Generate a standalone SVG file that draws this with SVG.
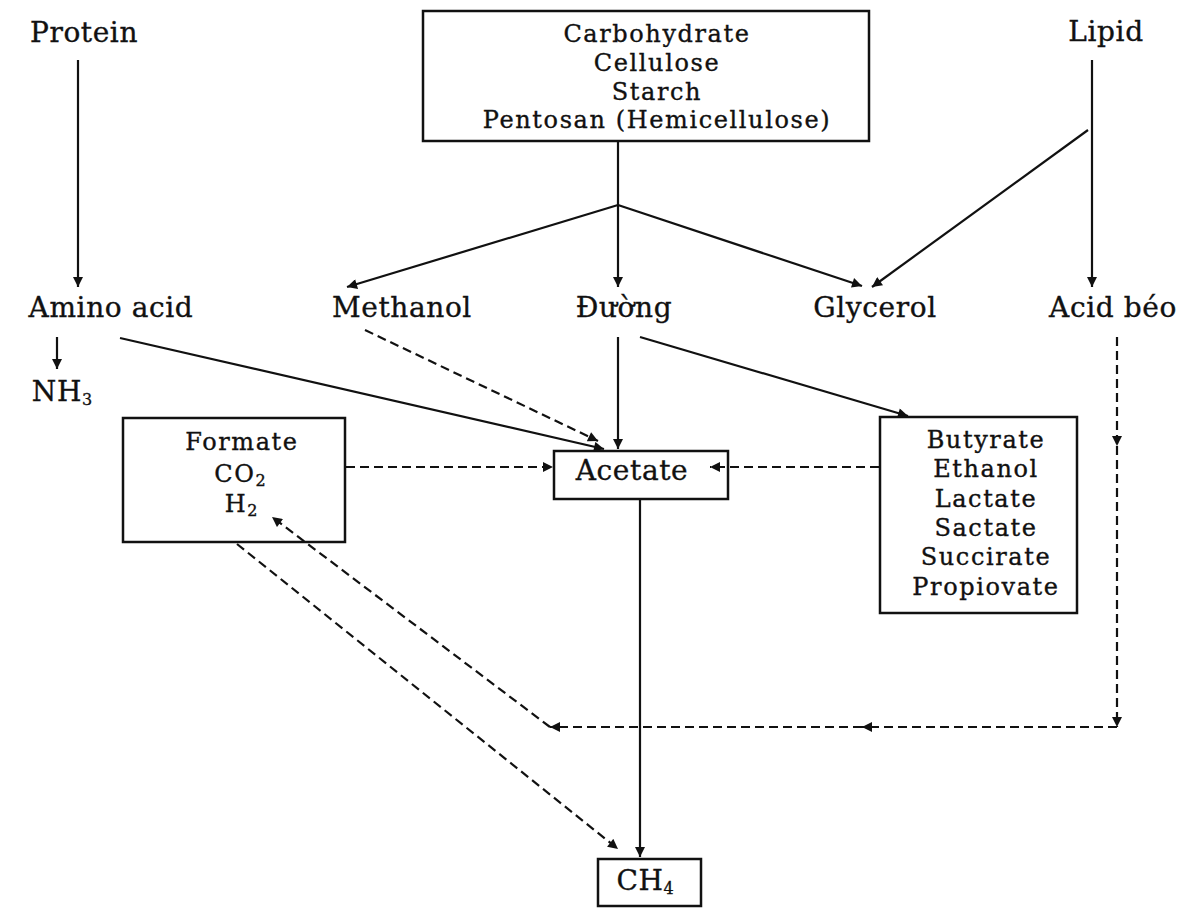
<svg xmlns="http://www.w3.org/2000/svg" width="1195" height="908" viewBox="0 0 1195 908">
<style>
text{font-family:"DejaVu Serif","Liberation Serif",serif;font-size:28px;letter-spacing:0.6px;fill:#111;stroke:#111;stroke-width:0.35;text-anchor:middle}
text.st{font-size:24px;letter-spacing:1.6px}
.box{fill:#fff;stroke:#111;stroke-width:2.5}
.s{stroke:#111;stroke-width:2.2;fill:none}
.d{stroke:#111;stroke-width:2.2;fill:none;stroke-dasharray:9 5}
.sub{font-size:16px;letter-spacing:0}
</style>
<defs>
<marker id="ah" viewBox="0 0 10 10" refX="10" refY="5" markerWidth="11" markerHeight="10" markerUnits="userSpaceOnUse" orient="auto">
<path d="M0,0 L10,5 L0,10 z" fill="#111"/>
</marker>
</defs>
<rect width="1195" height="908" fill="#fff"/>

<g id="protein"><text x="84" y="42">Protein</text></g>
<g id="carbohydrate">
<rect class="box" x="423" y="11" width="446" height="130"/>
<text class="st" x="657" y="42">Carbohydrate</text>
<text class="st" x="657" y="71">Cellulose</text>
<text class="st" x="657" y="100">Starch</text>
<text class="st" x="657" y="128">Pentosan (Hemicellulose)</text>
</g>
<g id="lipid"><text x="1106" y="41">Lipid</text></g>
<g id="amino-acid"><text x="111" y="317">Amino acid</text></g>
<g id="methanol"><text x="402" y="317">Methanol</text></g>
<g id="duong"><text x="624" y="317">Đường</text></g>
<g id="glycerol"><text x="875" y="317">Glycerol</text></g>
<g id="acid-beo"><text x="1113" y="317">Acid béo</text></g>
<g id="nh3"><text x="62" y="401">NH<tspan class="sub" dy="4">3</tspan></text></g>
<g id="formate">
<rect class="box" x="123" y="418" width="222" height="124"/>
<text class="st" x="242" y="450">Formate</text>
<text class="st" x="240" y="482">CO<tspan class="sub" dy="4">2</tspan></text>
<text class="st" x="241" y="512">H<tspan class="sub" dy="4">2</tspan></text>
</g>
<g id="acetate">
<rect class="box" x="554" y="451" width="174" height="48"/>
<text x="632" y="480">Acetate</text>
</g>
<g id="butyrate">
<rect class="box" x="880" y="417" width="197" height="196"/>
<text class="st" x="986" y="448">Butyrate</text>
<text class="st" x="986" y="477">Ethanol</text>
<text class="st" x="986" y="507">Lactate</text>
<text class="st" x="986" y="536">Sactate</text>
<text class="st" x="986" y="565">Succirate</text>
<text class="st" x="986" y="595">Propiovate</text>
</g>
<g id="ch4">
<rect class="box" x="598" y="859" width="103" height="47"/>
<text x="645" y="890">CH<tspan class="sub" dy="4">4</tspan></text>
</g>

<g id="connectors">
<line class="s" x1="78" y1="60" x2="78" y2="287" marker-end="url(#ah)"/>
<line class="s" x1="618" y1="142" x2="618" y2="287" marker-end="url(#ah)"/>
<line class="s" x1="618" y1="205" x2="347" y2="287" marker-end="url(#ah)"/>
<line class="s" x1="618" y1="205" x2="862" y2="286" marker-end="url(#ah)"/>
<line class="s" x1="1092" y1="60" x2="1092" y2="287" marker-end="url(#ah)"/>
<line class="s" x1="1088" y1="130" x2="872" y2="287" marker-end="url(#ah)"/>
<line class="s" x1="57" y1="337" x2="57" y2="369" marker-end="url(#ah)"/>
<line class="s" x1="120" y1="338" x2="604" y2="449" marker-end="url(#ah)"/>
<line class="d" x1="365" y1="330" x2="598" y2="441" marker-end="url(#ah)"/>
<line class="s" x1="618" y1="337" x2="618" y2="449" marker-end="url(#ah)"/>
<line class="s" x1="640" y1="337" x2="908" y2="416" marker-end="url(#ah)"/>
<line class="d" x1="346" y1="467" x2="553" y2="467" marker-end="url(#ah)"/>
<line class="d" x1="879" y1="467" x2="710" y2="467" marker-end="url(#ah)"/>
<line class="s" x1="640" y1="500" x2="640" y2="857" marker-end="url(#ah)"/>
<line class="d" x1="1117" y1="337" x2="1117" y2="446" marker-end="url(#ah)"/>
<line class="d" x1="1117" y1="446" x2="1117" y2="727" marker-end="url(#ah)"/>
<line class="d" x1="1117" y1="727" x2="862" y2="727" marker-end="url(#ah)"/>
<line class="d" x1="862" y1="727" x2="550" y2="727" marker-end="url(#ah)"/>
<line class="d" x1="550" y1="727" x2="272" y2="517" marker-end="url(#ah)"/>
<line class="d" x1="237" y1="544" x2="618" y2="849" marker-end="url(#ah)"/>
</g>
</svg>
